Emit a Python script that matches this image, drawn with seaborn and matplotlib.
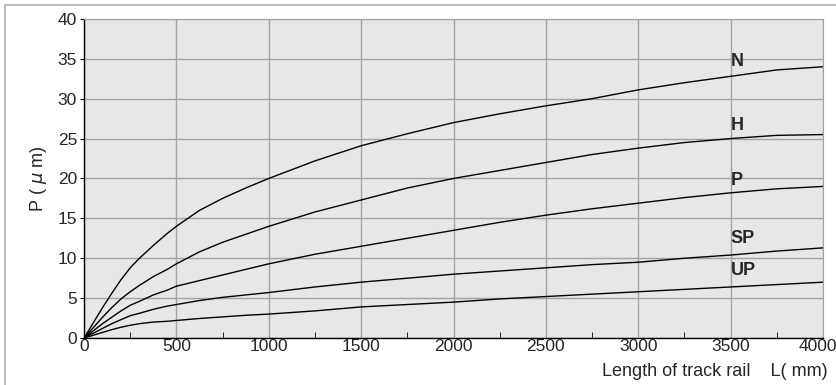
import numpy as np
import pandas as pd
import matplotlib
matplotlib.use("Agg")
import matplotlib.pyplot as plt
import matplotlib.transforms as mtransforms
from matplotlib.lines import Line2D
import seaborn as sns

# track rail length (mm)
length = [0, 50, 100, 150, 200, 250, 300, 375, 450, 500, 625, 750, 875, 1000,
          1250, 1500, 1750, 2000, 2250, 2500, 2750, 3000, 3250, 3500, 3750, 4000]

# parallelism P (um) per accuracy grade
n_vals = [0, 1.9, 3.8, 5.6, 7.3, 8.8, 10.0, 11.6, 13.1, 14, 16, 17.5, 18.8, 20,
          22.2, 24.1, 25.6, 27, 28.1, 29.1, 30, 31.1, 32, 32.8, 33.6, 34]
h_vals = [0, 1.3, 2.6, 3.8, 4.9, 5.8, 6.6, 7.7, 8.6, 9.3, 10.8, 12, 13.0, 14,
          15.8, 17.3, 18.8, 20, 21, 22, 23, 23.8, 24.5, 25, 25.4, 25.5]
p_vals = [0, 0.9, 1.8, 2.6, 3.4, 4.1, 4.6, 5.4, 6.0, 6.5, 7.2, 7.9, 8.6, 9.3,
          10.5, 11.5, 12.5, 13.5, 14.5, 15.4, 16.2, 16.9, 17.6, 18.2, 18.7, 19]
sp_vals = [0, 0.6, 1.2, 1.8, 2.3, 2.8, 3.1, 3.6, 4.0, 4.2, 4.7, 5.1, 5.4, 5.7,
           6.4, 7, 7.5, 8, 8.4, 8.8, 9.2, 9.5, 10, 10.4, 10.9, 11.3]
up_vals = [0, 0.35, 0.7, 1.05, 1.35, 1.6, 1.8, 2.0, 2.1, 2.2, 2.45, 2.65, 2.85, 3,
           3.4, 3.9, 4.2, 4.5, 4.9, 5.2, 5.5, 5.8, 6.1, 6.4, 6.7, 7]

grades = ["N", "H", "P", "SP", "UP"]
label_y = [34.6, 26.6, 19.8, 12.5, 8.5]  # where the grade labels sit
label_x = 3500

series = {"N": n_vals, "H": h_vals, "P": p_vals, "SP": sp_vals, "UP": up_vals}
rows = []
for g in grades:
    for x, v in zip(length, series[g]):
        rows.append({"L": x, "P": v, "grade": g})
df = pd.DataFrame(rows)

sns.set_style("ticks")
plt.rcParams["font.family"] = ["Liberation Sans", "DejaVu Sans"]

fig = plt.figure(figsize=(8.36, 3.85), dpi=100)
ax = fig.add_axes([0.1005, 0.122, 0.884, 0.829])
ax.set_facecolor("#e6e7e9")

sns.lineplot(data=df, x="L", y="P", units="grade", estimator=None,
             color="black", lw=1.0, ax=ax, legend=False)

ax.set_xlim(0, 4000)
ax.set_ylim(0, 40)
ax.set_xticks(np.arange(0, 4001, 500))
ax.set_xticks(np.arange(250, 4000, 500), minor=True)
ax.set_yticks(np.arange(0, 41, 5))
ax.grid(True, which="major", color="#a2a3a5", lw=1.0)
ax.set_axisbelow(True)

for s in ["top", "right"]:
    ax.spines[s].set_color("#a2a3a5")
for s in ["bottom", "left"]:
    ax.spines[s].set_color("black")
    ax.spines[s].set_linewidth(1.0)

ax.tick_params(axis="x", which="both", direction="in", length=4, color="black",
               labelsize=12.5, pad=1)
ax.tick_params(axis="x", which="major", length=0)
ax.tick_params(axis="y", direction="out", length=3, color="black", labelsize=12.5, pad=2)

# nudge the last x label so it stays inside the figure
last = ax.get_xticklabels()[-1]
last.set_transform(last.get_transform() +
                   mtransforms.ScaledTranslation(-5 / 100, 0, fig.dpi_scale_trans))

for g, yl in zip(grades, label_y):
    ax.text(label_x, yl, g, fontsize=13, fontweight="bold", ha="left", va="center")

ax.set_xlabel("")
ax.set_ylabel("P ( $\\mu$ m)", fontsize=13, labelpad=6)
fig.text(0.99, 0.034, "Length of track rail    L( mm)", ha="right", va="center",
         fontsize=13)

# light frame on the top and left of the figure
fig.add_artist(Line2D([0.006, 1.0], [0.987, 0.987], color="#b0b0b0", lw=1.2))
fig.add_artist(Line2D([0.006, 0.006], [0.0, 0.987], color="#b0b0b0", lw=1.2))

fig.savefig("out.png", dpi=100)
